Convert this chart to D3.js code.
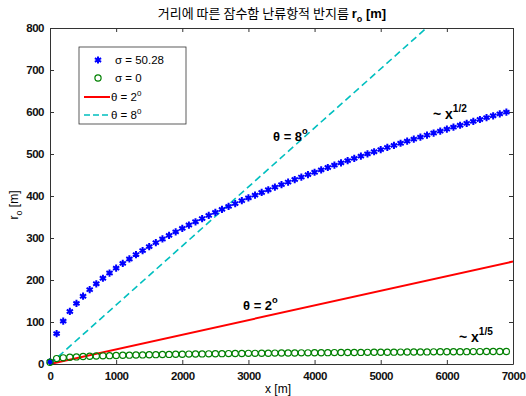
<!DOCTYPE html>
<html><head><meta charset="utf-8">
<script src="https://cdn.jsdelivr.net/npm/d3@7"></script>
<style>body{margin:0;background:#fff}svg{display:block}</style>
</head><body><svg id="c" width="526" height="396"></svg>
<script>
const xs = d3.range(0, 7000, 100);
const sigmaHigh = [5,72.2,102.1,125.1,144.4,161.4,176.9,191.0,204.2,216.6,228.3,239.5,250.1,260.3,270.1,279.6,288.8,297.7,306.3,314.7,322.9,330.9,338.6,346.3,353.7,361.0,368.1,375.2,382.0,388.8,395.5,402.0,408.4,414.8,421.0,427.1,433.2,439.2,445.1,450.9,456.6,462.3,467.9,473.4,478.9,484.3,489.7,495.0,500.2,505.4,510.5,515.6,520.6,525.6,530.6,535.4,540.3,545.1,549.9,554.6,559.3,563.9,568.5,573.1,577.6,582.1,586.6,591.0,595.4,599.7];
const sigmaZero = [4,12.8,14.7,16.0,16.9,17.7,18.3,18.9,19.4,19.9,20.3,20.7,21.1,21.4,21.7,22.0,22.3,22.6,22.8,23.1,23.3,23.6,23.8,24.0,24.2,24.4,24.6,24.8,24.9,25.1,25.3,25.4,25.6,25.7,25.9,26.1,26.2,26.3,26.5,26.6,26.8,26.9,27.0,27.1,27.3,27.4,27.5,27.6,27.7,27.9,28.0,28.1,28.2,28.3,28.4,28.6,28.7,28.8,28.9,29.0,29.1,29.2,29.3,29.4,29.5,29.5,29.6,29.7,29.8,29.9];
const theta2X = [0, 7000], theta2Y = [0, 244];
const theta8X = [0, 7000], theta8Y = [0, 984];
const xTicks = [0,1000,2000,3000,4000,5000,6000,7000];
const yTicks = [0,100,200,300,400,500,600,700,800];
const legendLabels = ["σ = 50.28","σ = 0","θ = 2","θ = 8"];

const svg = d3.select("#c");
const L=50,R=513,T=28,B=364;
const x = d3.scaleLinear().domain([0,7000]).range([L,R]);
const y = d3.scaleLinear().domain([0,800]).range([B,T]);
const tickFont = "'Liberation Sans', Arial, sans-serif";

svg.append("defs").append("clipPath").attr("id","clip").append("rect")
  .attr("x",L).attr("y",T).attr("width",R-L).attr("height",B-T);

const axCol="#333";
const fmt = d3.format("d");
const gB = svg.append("g").attr("transform",`translate(0,${B})`)
  .call(d3.axisBottom(x).tickValues(xTicks).tickSizeInner(-4).tickSizeOuter(0).tickPadding(6).tickFormat(fmt));
const gT = svg.append("g").attr("transform",`translate(0,${T})`)
  .call(d3.axisTop(x).tickValues(xTicks).tickSizeInner(-4).tickSizeOuter(0).tickFormat(""));
const gL = svg.append("g").attr("transform",`translate(${L},0)`)
  .call(d3.axisLeft(y).tickValues(yTicks).tickSizeInner(-4).tickSizeOuter(0).tickPadding(6).tickFormat(fmt));
const gR = svg.append("g").attr("transform",`translate(${R},0)`)
  .call(d3.axisRight(y).tickValues(yTicks).tickSizeInner(-4).tickSizeOuter(0).tickFormat(""));
[gB,gT,gL,gR].forEach(g=>{
  g.selectAll("path").attr("stroke",axCol).attr("stroke-width",1);
  g.selectAll("line").attr("stroke",axCol);
  g.selectAll("text").attr("font-family",tickFont).attr("font-size",11.5).attr("font-weight","bold")
    .attr("letter-spacing",-0.5).attr("fill","#111");
});
gB.selectAll("text").attr("dy","0.85em");

const plot = svg.append("g").attr("clip-path","url(#clip)");
const line = d3.line().x(d=>x(d[0])).y(d=>y(d[1]));
plot.append("path").datum(d3.zip(theta8X,theta8Y)).attr("d",line)
  .attr("fill","none").attr("stroke","#00bfbf").attr("stroke-width",1.6).attr("stroke-dasharray","7,4");
plot.append("path").datum(d3.zip(theta2X,theta2Y)).attr("d",line)
  .attr("fill","none").attr("stroke","#ff0000").attr("stroke-width",2);

const star = d3.symbol().type(d3.symbolAsterisk).size(36);
svg.append("g").selectAll("path").data(d3.zip(xs,sigmaHigh)).join("path")
  .attr("d",star).attr("transform",d=>`translate(${x(d[0])},${y(d[1])})`)
  .attr("fill","none").attr("stroke","#0000ff").attr("stroke-width",2);
svg.append("g").selectAll("circle").data(d3.zip(xs,sigmaZero)).join("circle")
  .attr("cx",d=>x(d[0])).attr("cy",d=>y(d[1])).attr("r",3.1)
  .attr("fill","none").attr("stroke","#008000").attr("stroke-width",1.2);

// legend
const lg = svg.append("g");
lg.append("rect").attr("x",79).attr("y",47).attr("width",107).attr("height",77)
  .attr("fill","#fff").attr("stroke","#333").attr("stroke-width",0.8);
const ly=[60,78,97,115];
lg.append("path").attr("d",star).attr("transform",`translate(98,${ly[0]})`)
  .attr("fill","none").attr("stroke","#0000ff").attr("stroke-width",2);
lg.append("circle").attr("cx",98).attr("cy",ly[1]).attr("r",3.1)
  .attr("fill","none").attr("stroke","#008000").attr("stroke-width",1.2);
lg.append("line").attr("x1",84).attr("x2",110).attr("y1",ly[2]).attr("y2",ly[2])
  .attr("stroke","#ff0000").attr("stroke-width",2);
lg.append("line").attr("x1",84).attr("x2",110).attr("y1",ly[3]).attr("y2",ly[3])
  .attr("stroke","#00bfbf").attr("stroke-width",1.6).attr("stroke-dasharray","6,3");
legendLabels.forEach((t,i)=>{
  const tx = lg.append("text").attr("x",i<2?115:111).attr("y",ly[i]+4)
    .attr("font-family",tickFont).attr("font-size",11.5).text(t);
  if(i>=2) tx.append("tspan").attr("dy",-5).attr("font-size",8).text("0");
});

// annotations
function ann(xp,yp,main,sup,size){
  const t=svg.append("text").attr("x",xp).attr("y",yp).attr("font-family",tickFont)
    .attr("font-weight","bold").attr("font-size",size).text(main);
  t.append("tspan").attr("dy",-7).attr("font-size",size*0.72).text(sup);
}
ann(273,141,"θ = 8","o",13);
ann(243,310,"θ = 2","o",13);
ann(433,119,"~ x","1/2",14);
ann(459,342,"~ x","1/5",14);

// title
const tt = svg.append("text").attr("x",272).attr("y",18).attr("text-anchor","middle")
  .attr("font-family","'Noto Sans CJK KR', sans-serif").attr("font-size",13).text("거리에 따른 잠수함 난류항적 반지름 ");
tt.append("tspan").attr("font-family",tickFont).attr("font-weight","bold").text("r");
tt.append("tspan").attr("font-family",tickFont).attr("font-weight","bold").attr("font-size",9).attr("dy",4).text("o");
tt.append("tspan").attr("font-family",tickFont).attr("font-weight","bold").attr("dy",-4).text(" [m]");

// axis labels
svg.append("text").attr("x",278).attr("y",393).attr("text-anchor","middle")
  .attr("font-family",tickFont).attr("font-size",12).text("x [m]");
const yl = svg.append("text").attr("transform","translate(18,205) rotate(-90)").attr("text-anchor","middle")
  .attr("font-family",tickFont).attr("font-size",12);
yl.append("tspan").text("r");
yl.append("tspan").attr("font-size",9).attr("dy",4).text("o");
yl.append("tspan").attr("dy",-4).text(" [m]");
</script></body></html>
